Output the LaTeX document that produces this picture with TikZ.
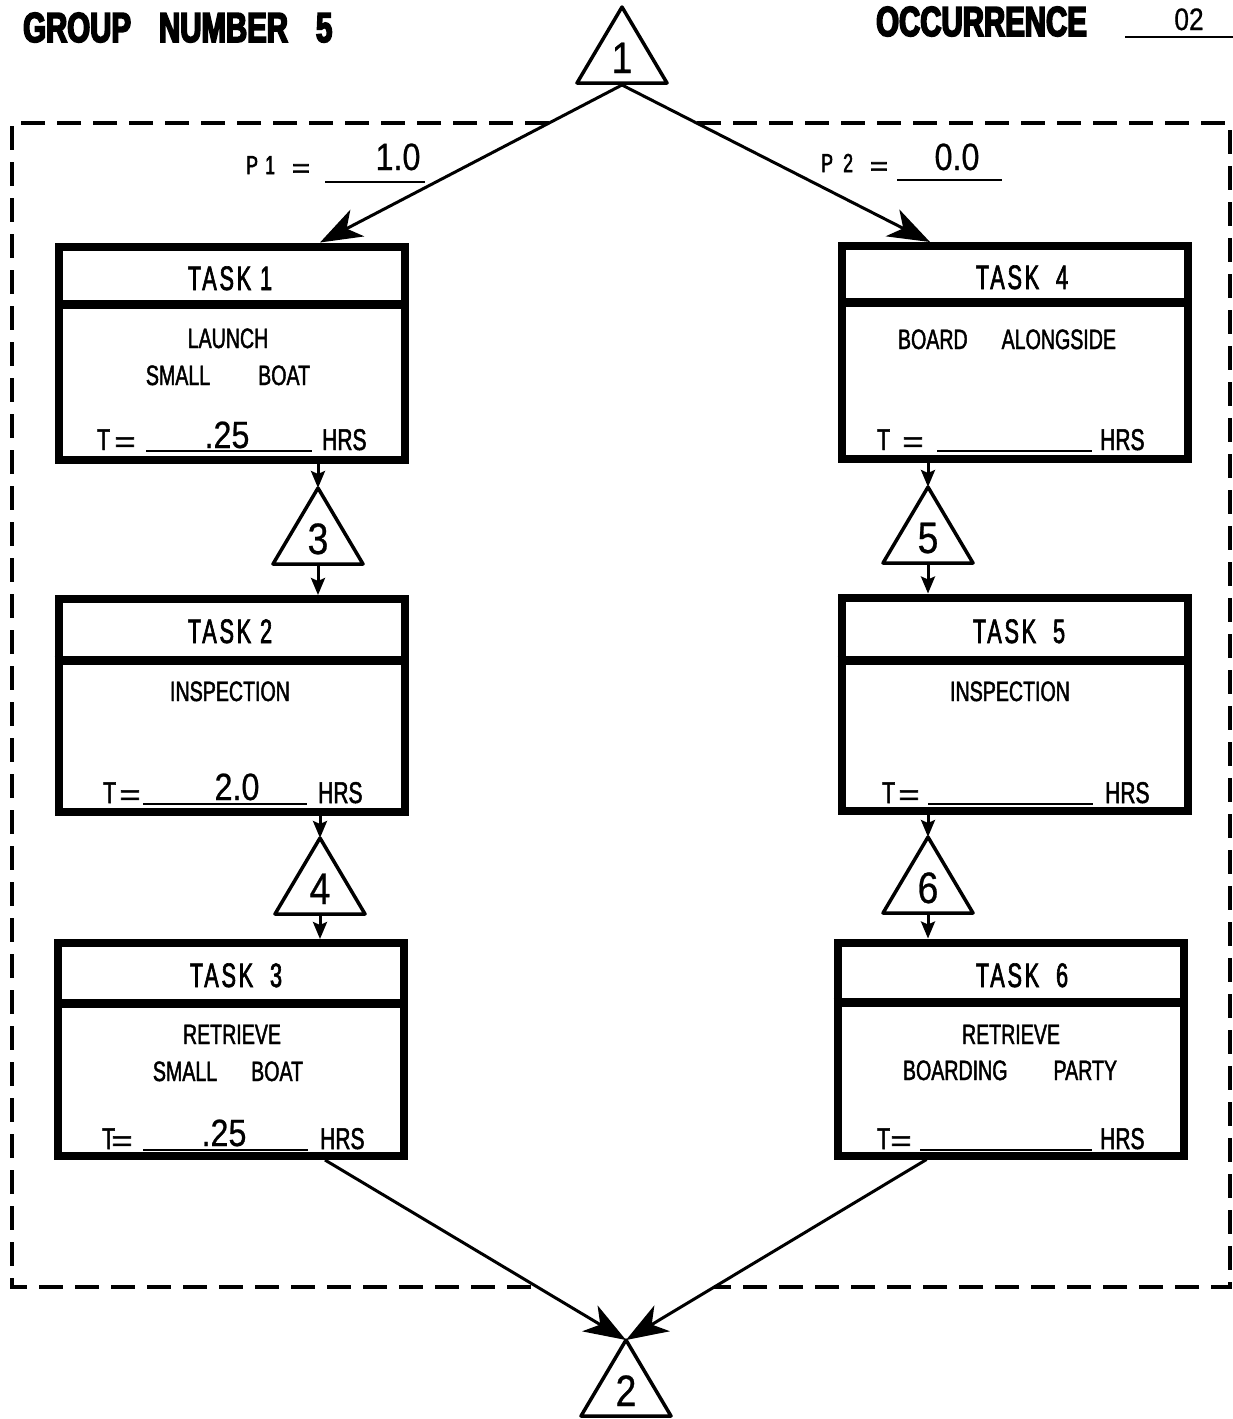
\documentclass[tikz,border=0pt]{standalone}
\usepackage{fontspec}
\usepackage{graphicx}
\setmainfont{Liberation Sans}[FakeStretch=0.7,FakeBold=1.6]
\newfontfamily\titlefont{Liberation Sans}[FakeStretch=0.7,FakeBold=4]
\newfontfamily\taskfont{Liberation Sans}[FakeStretch=0.64,LetterSpace=8,FakeBold=1.8]
\newfontfamily\valfont{Liberation Sans}[FakeStretch=0.85,FakeBold=0.6]
\newfontfamily\plfont{Liberation Sans}[FakeStretch=0.68,FakeBold=2.2]
\usetikzlibrary{arrows.meta,calc}
\newcommand\wideeq{\scalebox{1.7}[1]{=}}
\tikzset{
  taskbox/.style={draw, line width=8pt, minimum width=346pt, minimum height=213pt, inner sep=0pt},
  divider/.style={line width=9pt},
  lbl/.style={inner sep=0pt, anchor=base},
  lblw/.style={inner sep=0pt, anchor=base west},
  titletxt/.style={lblw, font=\titlefont\bfseries\fontsize{42}{46}\selectfont},
  tasklbl/.style={lbl, font=\taskfont\fontsize{34}{40}\selectfont},
  body/.style={lbl, font=\fontsize{28}{32}\selectfont},
  tl/.style={lblw, font=\fontsize{30}{34}\selectfont},
  tlc/.style={lbl, font=\fontsize{30}{34}\selectfont},
  plbl/.style={lblw, font=\plfont\fontsize{26}{30}\selectfont},
  pleq/.style={lbl, font=\plfont\fontsize{26}{30}\selectfont},
  val/.style={lbl, font=\valfont\fontsize{38}{42}\selectfont},
  trinum/.style={lbl, font=\valfont\fontsize{44}{48}\selectfont},
  triline/.style={line width=3.5pt, line join=round},
  uline/.style={line width=2.5pt},
  bigarrow/.style={line width=3pt, -{Stealth[length=42pt,width=30pt,inset=12pt]}},
  smallarrow/.style={line width=3pt, -{Stealth[length=17pt,width=14pt,inset=3pt]}},
  dashbox/.style={line width=3.5pt, dash pattern=on 24pt off 12pt}
}
\newcommand\mytri[4]{%
  \coordinate (#1a) at (#2,#3);
  \coordinate (#1b) at (#2,#3+78);
  \draw[triline] (#1a) -- (#2-45,#3+76) -- (#2+45,#3+76) -- cycle;
  \node[trinum] (#1n) at (#2,#3+66) {#4};
}
\begin{document}
\begin{tikzpicture}[x=1pt,y=-1pt]
\useasboundingbox (0,0) rectangle (1233,1419);

% header
\node[titletxt] (grp) at (23,42) {GROUP\hspace{28pt}NUMBER\hspace{28pt}5};
\node[titletxt] (occ) at (876,36) {OCCURRENCE};
\node[lbl, font=\valfont\fontsize{31}{35}\selectfont] (occval) at (1189,30) {02};
\draw[uline] (1125,37) -- (1233,37);

% dashed frame
\draw[dashbox] (549,123) -- (12,123) -- (12,1287) -- (537,1287);
\draw[dashbox] (697,123) -- (1230,123) -- (1230,1287) -- (714,1287);

% triangles
\mytri{t1}{622}{7}{1}
\mytri{t3}{318}{488}{3}
\mytri{t4}{320}{838}{4}
\mytri{t5}{928}{487}{5}
\mytri{t6}{928}{837}{6}
\mytri{t2}{626}{1340}{2}

% probabilities
\node[plbl] (p1p) at (246,174) {P};
\node[plbl] (p1n) at (265,174) {1};
\node[pleq] (p1e) at (301,177) {\wideeq};
\draw[uline] (325,182) -- (425,182);
\node[val] (p1v) at (398,170) {1.0};
\node[plbl] (p2p) at (821,172) {P};
\node[plbl] (p2n) at (843,172) {2};
\node[pleq] (p2e) at (879,175) {\wideeq};
\draw[uline] (897,180) -- (1002,180);
\node[val] (p2v) at (957,170) {0.0};

% task boxes
\node[taskbox] (task1) at (232,353) {};
\node[taskbox] (task2) at (231.5,705.5) {};
\node[taskbox] (task3) at (231,1049.5) {};
\node[taskbox] (task4) at (1015,352.5) {};
\node[taskbox] (task5) at (1014.5,704) {};
\node[taskbox] (task6) at (1010.5,1049) {};

\draw[divider] ([yshift=-61.5pt]task1.north west) -- ([yshift=-61.5pt]task1.north east);
\draw[divider] ([yshift=-65pt]task2.north west) -- ([yshift=-65pt]task2.north east);
\draw[divider] ([yshift=-64pt]task3.north west) -- ([yshift=-64pt]task3.north east);
\draw[divider] ([yshift=-60pt]task4.north west) -- ([yshift=-60pt]task4.north east);
\draw[divider] ([yshift=-66.5pt]task5.north west) -- ([yshift=-66.5pt]task5.north east);
\draw[divider] ([yshift=-63.5pt]task6.north west) -- ([yshift=-63.5pt]task6.north east);

% task titles
\node[tasklbl] (task1t) at (230,290) {TASK 1};
\node[tasklbl] (task2t) at (230,643) {TASK 2};
\node[tasklbl] (task3t) at (236,987) {TASK\hspace{8pt} 3};
\node[tasklbl] (task4t) at (1022,289) {TASK\hspace{8pt} 4};
\node[tasklbl] (task5t) at (1019,643) {TASK\hspace{8pt} 5};
\node[tasklbl] (task6t) at (1022,987) {TASK\hspace{8pt} 6};

% task descriptions
\node[body] (task1d1) at (228,348) {LAUNCH};
\node[body] (task1d2) at (228,385) {SMALL\hspace{48pt}BOAT};
\node[body] (task4d1) at (1007,349) {BOARD\hspace{34pt}ALONGSIDE};
\node[body] (task2d1) at (230,701) {INSPECTION};
\node[body] (task5d1) at (1010,701) {INSPECTION};
\node[body] (task3d1) at (232,1044) {RETRIEVE};
\node[body] (task3d2) at (228,1081) {SMALL\hspace{34pt}BOAT};
\node[body] (task6d1) at (1011,1044) {RETRIEVE};
\node[body] (task6d2) at (1010,1080) {BOARDING\hspace{46pt}PARTY};

% time lines
\node[tl] (task1T) at (97,450) {T};
\node[tlc] (task1eq) at (125,452) {\wideeq};
\draw[uline] (146,451) -- (312,451);
\node[val] (task1v) at (227,448) {.25};
\node[tl] (task1h) at (322,450) {HRS};

\node[tl] (task2T) at (103,803) {T};
\node[tlc] (task2eq) at (130,805) {\wideeq};
\draw[uline] (143,804) -- (307,804);
\node[val] (task2v) at (237,800) {2.0};
\node[tl] (task2h) at (318,803) {HRS};

\node[tl] (task3T) at (102,1149) {T};
\node[tlc] (task3eq) at (122,1151) {\wideeq};
\draw[uline] (143,1150) -- (308,1150);
\node[val] (task3v) at (224,1146) {.25};
\node[tl] (task3h) at (320,1149) {HRS};

\node[tl] (task4T) at (877,450) {T};
\node[tlc] (task4eq) at (913,452) {\wideeq};
\draw[uline] (937,451) -- (1092,451);
\node[tl] (task4h) at (1100,450) {HRS};

\node[tl] (task5T) at (882,803) {T};
\node[tlc] (task5eq) at (909,805) {\wideeq};
\draw[uline] (928,804) -- (1093,804);
\node[tl] (task5h) at (1105,803) {HRS};

\node[tl] (task6T) at (877,1149) {T};
\node[tlc] (task6eq) at (901,1151) {\wideeq};
\draw[uline] (920,1150) -- (1092,1150);
\node[tl] (task6h) at (1100,1149) {HRS};

% connectors
\draw[bigarrow] (t1b) -- ([xshift=88pt]task1.north);
\draw[bigarrow] (t1b) -- ([xshift=-85pt]task4.north);
\draw[smallarrow] (task1.south -| t3a) -- (t3a);
\draw[smallarrow] (t3b) -- (task2.north -| t3b);
\draw[smallarrow] (task2.south -| t4a) -- (t4a);
\draw[smallarrow] (t4b) -- (task3.north -| t4b);
\draw[smallarrow] (task4.south -| t5a) -- (t5a);
\draw[smallarrow] (t5b) -- (task5.north -| t5b);
\draw[smallarrow] (task5.south -| t6a) -- (t6a);
\draw[smallarrow] (t6b) -- (task6.north -| t6b);
\draw[bigarrow] ([xshift=94pt]task3.south) -- (t2a);
\draw[bigarrow] ([xshift=-84pt]task6.south) -- (t2a);
\end{tikzpicture}
\end{document}
